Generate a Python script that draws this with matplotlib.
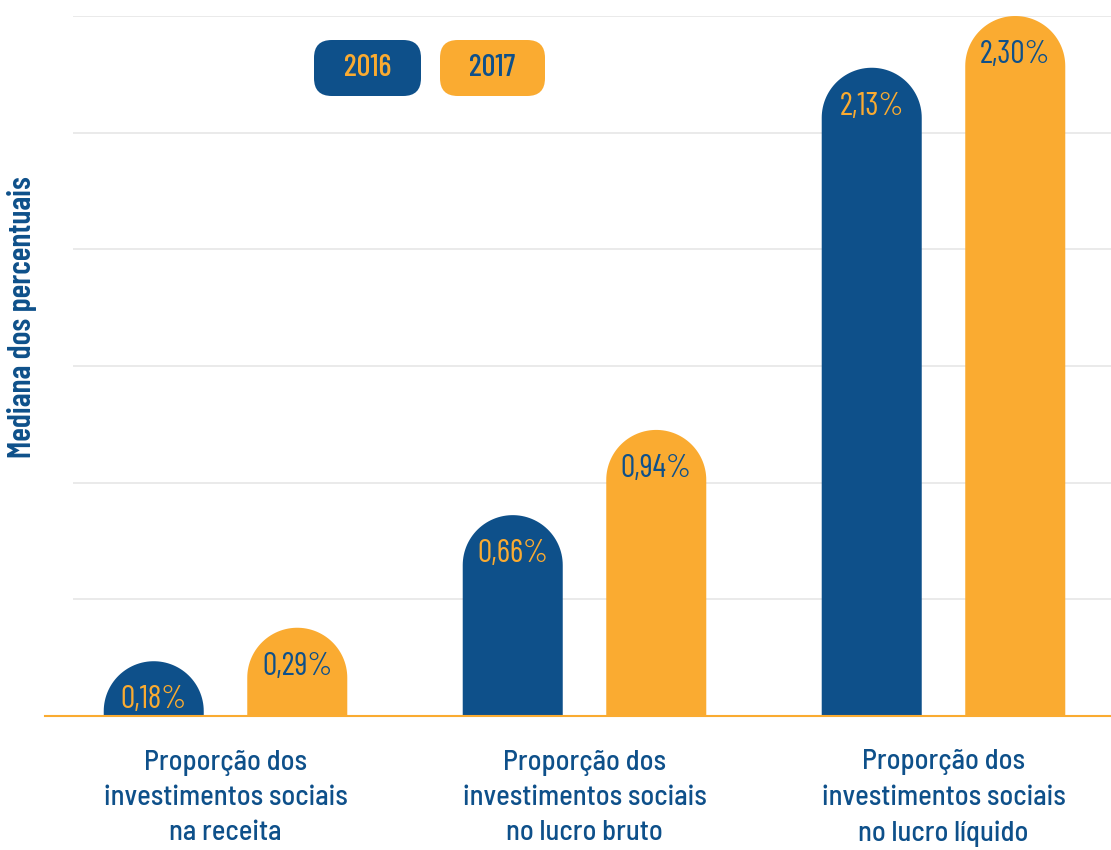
import numpy as np
import matplotlib
matplotlib.use("Agg")
import matplotlib.pyplot as plt
from matplotlib.patches import PathPatch, FancyBboxPatch
from matplotlib.path import Path

# data
categories = [
    "Proporção dos\ninvestimentos sociais\nna receita",
    "Proporção dos\ninvestimentos sociais\nno lucro bruto",
    "Proporção dos\ninvestimentos sociais\nno lucro líquido",
]
years = ["2016", "2017"]
values_2016 = [0.18, 0.66, 2.13]
values_2017 = [0.29, 0.94, 2.30]

BLUE = "#0E508A"
ORANGE = "#FAAB31"
GRID = "#E6E6E6"
FONT = ["Barlow Condensed", "DejaVu Sans"]
FONT_SEMI = ["Barlow Semi Condensed", "Barlow Condensed", "DejaVu Sans"]

W, H = 1111, 850
fig = plt.figure(figsize=(W / 100, H / 100), dpi=100)
ax = fig.add_axes([73 / W, (H - 716) / H, (W - 73) / W, 700 / H])
ax.set_xlim(-0.4248, 2.4666)
ax.set_ylim(0, max(values_2017))
ax.axis("off")

for yv in np.linspace(0, max(values_2017), 7)[1:]:
    ax.axhline(yv, color=GRID, lw=1.2, zorder=0)

# baseline reaches further left than the grid
ax.plot([-0.5025, 2.4666], [0, 0], color=ORANGE, lw=1.5, clip_on=False, zorder=3)

bar_w = 0.2786
offset = 0.1999
px_x = (W - 73) / (2.4666 + 0.4248)
px_y = 700 / max(values_2017)
ry = (bar_w / 2) * px_x / px_y


def rounded_bar(xc, h, color):
    r = bar_w / 2
    t = np.linspace(0, np.pi, 60)
    top = h - ry
    xs = np.concatenate([[xc + r], xc + r * np.cos(t), [xc - r]])
    ys = np.concatenate([[0], top + ry * np.sin(t), [0]])
    verts = np.column_stack([xs, ys])
    verts = np.vstack([verts, verts[:1]])
    codes = [Path.MOVETO] + [Path.LINETO] * (len(verts) - 2) + [Path.CLOSEPOLY]
    ax.add_patch(PathPatch(Path(verts, codes), facecolor=color, edgecolor="none",
                           clip_on=False, zorder=2))


x = np.arange(len(categories))
for vals, sign, color, tcolor in [(values_2016, -1, BLUE, ORANGE), (values_2017, 1, ORANGE, BLUE)]:
    for xi, v in zip(x, vals):
        xc = xi + sign * offset
        rounded_bar(xc, v, color)
        ax.annotate(f"{v:.2f}%".replace(".", ","), (xc, v), xytext=(0, -39 * 0.72),
                    textcoords="offset points", ha="center", va="center",
                    color=tcolor, fontsize=23, family=FONT, zorder=4)

for xi, lab in zip(x, categories):
    ax.annotate(lab, (xi, 0), xytext=(0, -82 * 0.72), textcoords="offset points",
                ha="center", va="center", color=BLUE, fontsize=20.5, family=FONT_SEMI,
                fontweight="medium", linespacing=1.47, annotation_clip=False)

fig.text(22 / W, 1 - 317 / H, "Mediana dos percentuais", rotation=90, ha="center",
         va="center", color=BLUE, fontsize=23, family=FONT, fontweight="semibold")

# legend chips
for (x0, x1), name, fc, tc in [((314, 421), years[0], BLUE, ORANGE), ((440, 545), years[1], ORANGE, BLUE)]:
    box = FancyBboxPatch((x0 / W, 1 - 96 / H), (x1 - x0) / W, 56 / H,
                         boxstyle="round,pad=0,rounding_size=0.016",
                         transform=fig.transFigure, facecolor=fc, edgecolor="none",
                         mutation_aspect=W / H)
    fig.add_artist(box)
    fig.text((x0 + x1) / 2 / W, 1 - 68 / H, name, ha="center", va="center",
             color=tc, fontsize=22, family=FONT, fontweight="medium")

fig.savefig("out.png", dpi=100)
